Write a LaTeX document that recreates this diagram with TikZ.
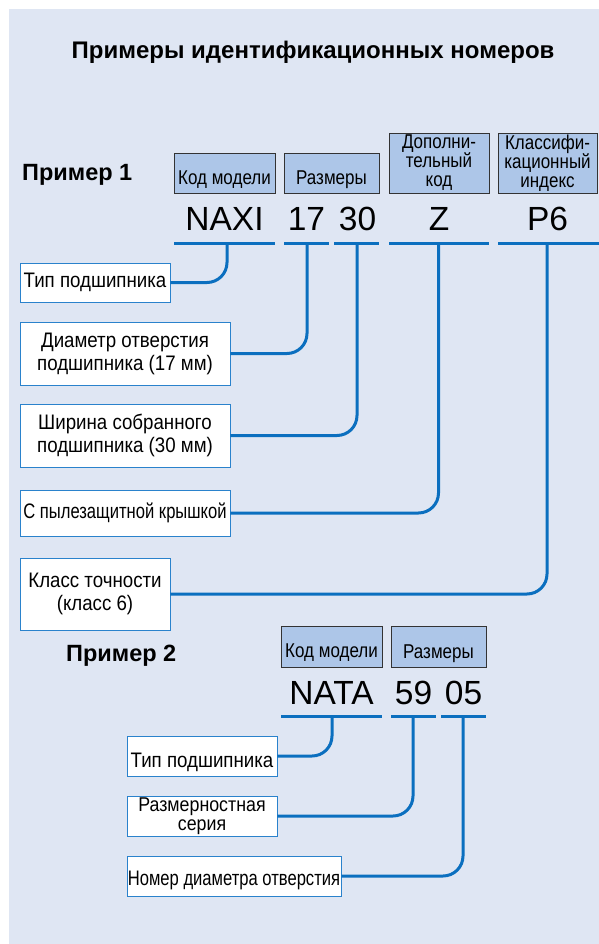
\documentclass[tikz,border=0pt]{standalone}
\usepackage{fontspec}
\setmainfont{Liberation Sans}
\newfontfamily\narrowfont[FakeStretch=0.89]{Liberation Sans}
\newfontfamily\headfont[FakeStretch=0.85]{Liberation Sans}
\newfontfamily\tightfont[FakeStretch=0.79]{Liberation Sans}
\usetikzlibrary{positioning}

\definecolor{panelblue}{HTML}{DFE6F3}
\definecolor{headblue}{HTML}{ADC6E8}
\definecolor{lineblue}{HTML}{0B6FBF}
\definecolor{boxblue}{HTML}{2A82CC}

\tikzset{
  headbox/.style={draw=black!80,fill=headblue,line width=0.8pt,inner sep=0pt,
    align=center,font=\headfont\fontsize{20}{19}\selectfont},
  infobox/.style={draw=boxblue,fill=white,line width=0.9pt,inner sep=0pt,
    align=center,font=\narrowfont\fontsize{21}{23}\selectfont},
  codetext/.style={anchor=base,font=\fontsize{33.5}{33.5}\selectfont},
  example/.style={anchor=base west,inner sep=0pt,font=\bfseries\fontsize{23.5}{23.5}\selectfont},
  bar/.style={lineblue,line width=3pt},
  link/.style={lineblue,line width=3pt,rounded corners=20pt},
  lowtext/.style={text height=#1,text depth=0pt}
}

\begin{document}
\begin{tikzpicture}[x=1pt,y=-1pt]
\useasboundingbox (0,0) rectangle (599,944);
\fill[panelblue] (9,9) rectangle (599,944);

\node[anchor=base,font=\bfseries\fontsize{24}{24}\selectfont] (title) at (313,59) {Примеры идентификационных номеров};

% example 1
\node[example] (ex1) at (22,181) {Пример 1};
\node[headbox,minimum width=101pt,minimum height=40pt,lowtext=22pt] (hm1) at (224.5,173) {Код модели};
\node[headbox,minimum width=95pt,minimum height=40pt,lowtext=22pt] (hs1) at (331.5,173) {Размеры};
\node[headbox,minimum width=100pt,minimum height=60pt] (hd1) at (439,163) {Дополни-\\тельный\\код};
\node[headbox,minimum width=99pt,minimum height=60pt] (hk1) at (547.5,163) {Классифи-\\кационный\\индекс};

\node[codetext] (naxi) at (224.5,230) {NAXI};
\node[codetext] (c17) at (306.5,230) {17};
\node[codetext] (c30) at (357.5,230) {30};
\node[codetext] (cz) at (439,230) {Z};
\node[codetext] (cp6) at (547.5,230) {P6};

\draw[bar] (174,243) -- (275,243);
\draw[bar] (284,243) -- (329,243);
\draw[bar] (334,243) -- (379,243);
\draw[bar] (389,243) -- (489,243);
\draw[bar] (498,243) -- (599,243);
\coordinate (u1) at (227,243);
\coordinate (u2) at (307,243);
\coordinate (u3) at (357,243);
\coordinate (u4) at (438.5,243);
\coordinate (u5) at (547,243);

\node[infobox,minimum width=150pt,minimum height=39pt] (t1) at (95,282.5) {Тип подшипника};
\node[infobox,minimum width=210pt,minimum height=63pt] (t2) at (125,353.5) {Диаметр отверстия\\подшипника (17 мм)};
\node[infobox,minimum width=210pt,minimum height=63pt] (t3) at (125,435.5) {Ширина собранного\\подшипника (30 мм)};
\node[infobox,minimum width=210pt,minimum height=46pt,font=\tightfont\fontsize{21}{23}\selectfont] (t4) at (125,513) {С пылезащитной крышкой};
\node[infobox,minimum width=150pt,minimum height=72pt] (t5) at (95,594) {Класс точности\\(класс 6)};

\draw[link] (t1.east) -| (u1);
\draw[link] (t2.east) -| (u2);
\draw[link] (t3.east) -| (u3);
\draw[link] (t4.east) -| (u4);
\draw[link] (t5.east) -| (u5);

% example 2
\node[example] (ex2) at (66,661) {Пример 2};
\node[headbox,minimum width=101pt,minimum height=41pt,lowtext=21pt] (hm2) at (331.5,646.5) {Код модели};
\node[headbox,minimum width=95pt,minimum height=41pt,lowtext=23pt] (hs2) at (438.5,646.5) {Размеры};

\node[codetext] (nata) at (331.5,704) {NATA};
\node[codetext] (c59) at (413.5,704) {59};
\node[codetext] (c05) at (463.5,704) {05};

\draw[bar] (281,716) -- (382,716);
\draw[bar] (391,716) -- (436,716);
\draw[bar] (441,716) -- (486,716);
\coordinate (v1) at (332,716);
\coordinate (v2) at (413,716);
\coordinate (v3) at (463,716);

\node[infobox,minimum width=150pt,minimum height=40pt,lowtext=22pt] (s1) at (202,756) {Тип подшипника};
\node[infobox,minimum width=150pt,minimum height=40pt,font=\narrowfont\fontsize{20}{19}\selectfont] (s2) at (202,816) {Размерностная\\серия};
\node[infobox,minimum width=214pt,minimum height=40pt,lowtext=18pt,font=\tightfont\fontsize{21}{23}\selectfont] (s3) at (234,876) {Номер диаметра отверстия};

\draw[link] (s1.east) -| (v1);
\draw[link] (s2.east) -| (v2);
\draw[link] (s3.east) -| (v3);
\end{tikzpicture}
\end{document}
